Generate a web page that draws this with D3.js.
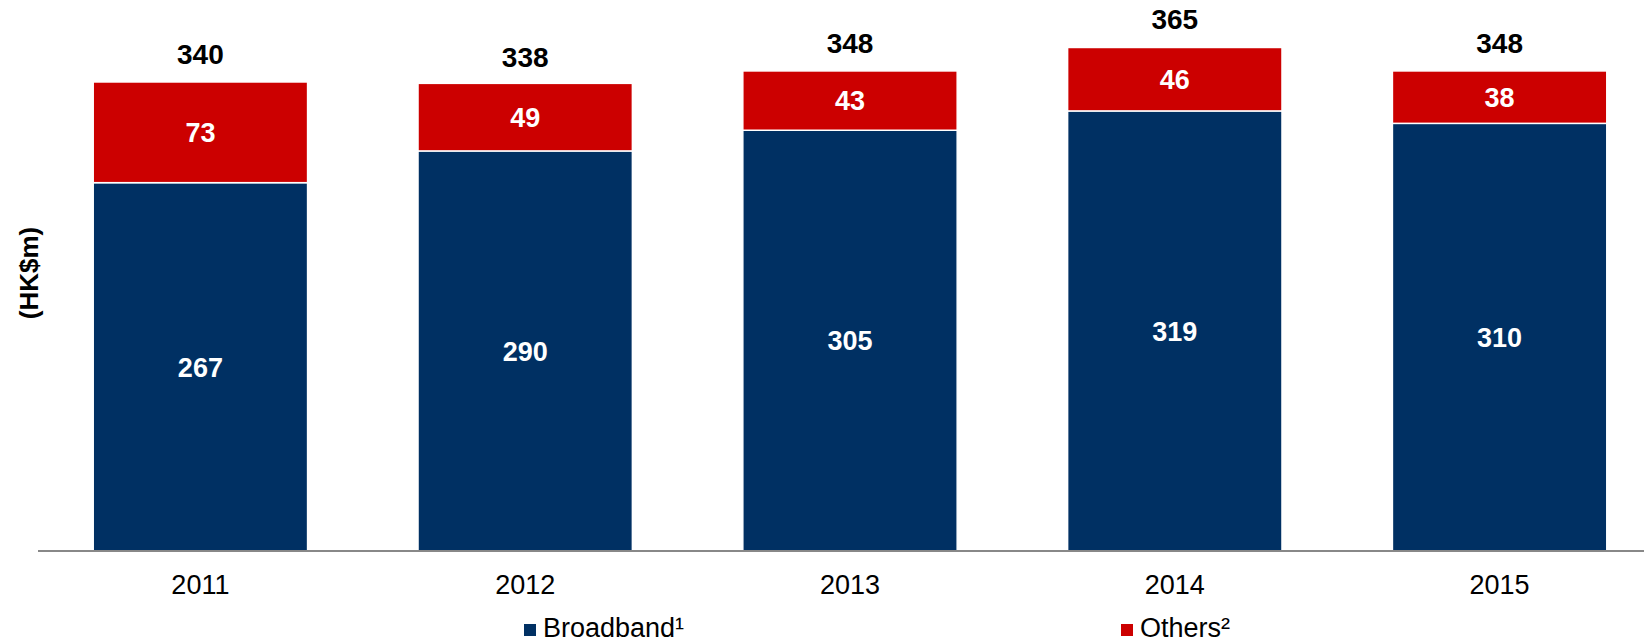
<!DOCTYPE html>
<html>
<head>
<meta charset="utf-8">
<script src="https://cdn.jsdelivr.net/npm/d3@7"></script>
<style>
  body { margin: 0; background: #fff; }
  svg { display: block; font-family: "Liberation Sans", Arial, sans-serif; }
</style>
</head>
<body>
<svg id="chart"></svg>
<script>
// chart data
const years = ['2011', '2012', '2013', '2014', '2015'];
const broadband = [267, 290, 305, 319, 310];
const others = [73, 49, 43, 46, 38];
const totals = [340, 338, 348, 365, 348];
const seriesNames = ['Broadband\u00b9', 'Others\u00b2'];
const seriesColors = ['#003063', '#cc0000'];

const width = 1644, height = 642;
const svg = d3.select('#chart').attr('width', width).attr('height', height);

// x band scale: bars ~214px wide, centres 200 .. 1499
const x = d3.scaleBand()
  .domain(years)
  .range([38, 1662])
  .paddingInner(0.34)
  .paddingOuter(0.17);

const y = d3.scaleLinear()
  .domain([0, 400])
  .range([551, -0.8]);

const rows = years.map((yr, i) => ({ year: yr, Broadband: broadband[i], Others: others[i], total: totals[i] }));
const stack = d3.stack().keys(['Broadband', 'Others'])(rows);

const g = svg.append('g');

stack.forEach((layer, li) => {
  g.selectAll('.bar' + li)
    .data(layer)
    .enter()
    .append('rect')
    .attr('x', d => x(d.data.year))
    .attr('y', d => y(d[1]))
    .attr('width', x.bandwidth())
    .attr('height', d => y(d[0]) - y(d[1]))
    .attr('fill', seriesColors[li])
    .attr('stroke', '#fff')
    .attr('stroke-width', 1.5);

  // value labels inside segments
  g.selectAll('.lab' + li)
    .data(layer)
    .enter()
    .append('text')
    .attr('x', d => x(d.data.year) + x.bandwidth() / 2)
    .attr('y', d => (y(d[0]) + y(d[1])) / 2)
    .attr('dy', '0.36em')
    .attr('text-anchor', 'middle')
    .attr('fill', '#fff')
    .attr('font-weight', 'bold')
    .attr('font-size', 27)
    .text(d => d[1] - d[0]);
});

// totals above bars
g.selectAll('.total')
  .data(rows)
  .enter()
  .append('text')
  .attr('x', d => x(d.year) + x.bandwidth() / 2)
  .attr('y', d => y(d.total) - 18)
  .attr('text-anchor', 'middle')
  .attr('fill', '#000')
  .attr('font-weight', 'bold')
  .attr('font-size', 28)
  .text(d => d.total);

// x axis
const xAxis = svg.append('g')
  .attr('transform', 'translate(0,' + y(0) + ')')
  .call(d3.axisBottom(x).tickSize(0).tickPadding(0));
xAxis.select('.domain').attr('stroke', '#888').attr('stroke-width', 2).attr('d', 'M38,0H1644');
xAxis.selectAll('text')
  .attr('font-size', 27)
  .attr('fill', '#000')
  .attr('font-family', '"Liberation Sans", Arial, sans-serif')
  .attr('dy', null)
  .attr('y', 43);

// y label
svg.append('text')
  .attr('transform', 'translate(38,273) rotate(-90)')
  .attr('text-anchor', 'middle')
  .attr('font-weight', 'bold')
  .attr('font-size', 26)
  .text('(HK$m)');

// legend
const legendX = [524, 1121];
const legend = svg.selectAll('.legend')
  .data(seriesNames)
  .enter()
  .append('g')
  .attr('transform', (d, i) => 'translate(' + legendX[i] + ',624)');
legend.append('rect')
  .attr('width', 12).attr('height', 12)
  .attr('fill', (d, i) => seriesColors[i]);
legend.append('text')
  .attr('x', 19).attr('y', 13)
  .attr('font-size', 27)
  .attr('fill', '#000')
  .text(d => d);
</script>
</body>
</html>
